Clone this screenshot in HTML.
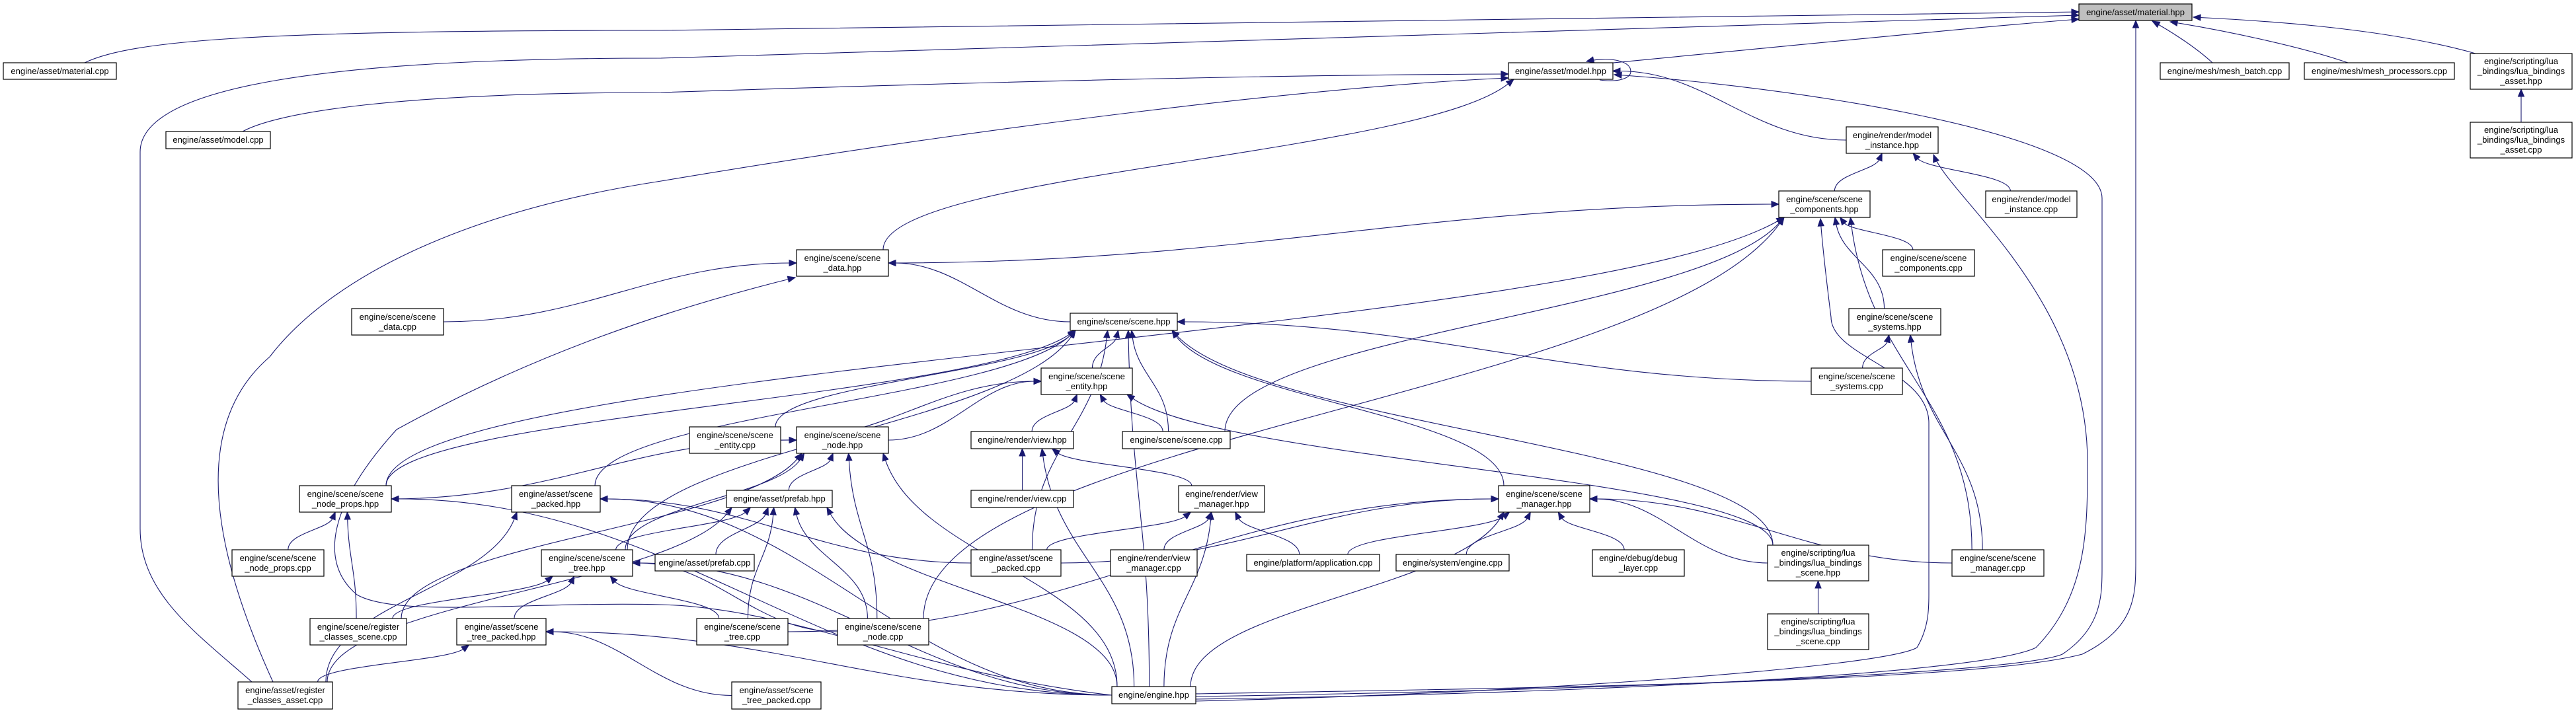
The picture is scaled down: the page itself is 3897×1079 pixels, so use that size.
<!DOCTYPE html>
<html><head><meta charset="utf-8"><style>
html,body{margin:0;padding:0;background:#fff;}
svg{display:block;}
text{font-family:"Liberation Sans",Arial,sans-serif;font-size:13px;fill:#000;text-anchor:middle;}
rect{fill:#fff;stroke:#000;stroke-width:1.2;}
</style></head><body>
<svg id="s" width="3897" height="1079" viewBox="0 0 3897 1079" xmlns="http://www.w3.org/2000/svg">
<g id="edges" fill="none" stroke="#191970" stroke-width="1.1"></g>
<g id="arrows" fill="#191970" stroke="#191970"></g>
<g id="nodes">
<rect x="3145" y="6" width="171" height="25" style="fill:#bfbfbf"/><text x="3230.5" y="23">engine/asset/material.hpp</text>
<rect x="5" y="95" width="171" height="25"/><text x="90.5" y="112">engine/asset/material.cpp</text>
<rect x="2282" y="95" width="158" height="25"/><text x="2361" y="112">engine/asset/model.hpp</text>
<rect x="251" y="199" width="158" height="26"/><text x="330" y="216">engine/asset/model.cpp</text>
<rect x="3268" y="95" width="195" height="25"/><text x="3365.5" y="112">engine/mesh/mesh_batch.cpp</text>
<rect x="3486" y="95" width="227" height="25"/><text x="3599.5" y="112">engine/mesh/mesh_processors.cpp</text>
<rect x="3737" y="81" width="154" height="54"/><text x="3814" y="97">engine/scripting/lua</text><text x="3814" y="112">_bindings/lua_bindings</text><text x="3814" y="127">_asset.hpp</text>
<rect x="3737" y="185" width="154" height="54"/><text x="3814" y="201">engine/scripting/lua</text><text x="3814" y="216">_bindings/lua_bindings</text><text x="3814" y="231">_asset.cpp</text>
<rect x="2793" y="192" width="139" height="40"/><text x="2862.5" y="209">engine/render/model</text><text x="2862.5" y="224">_instance.hpp</text>
<rect x="3004" y="289" width="138" height="40"/><text x="3073" y="306">engine/render/model</text><text x="3073" y="321">_instance.cpp</text>
<rect x="2691" y="289" width="138" height="40"/><text x="2760" y="306">engine/scene/scene</text><text x="2760" y="321">_components.hpp</text>
<rect x="2848" y="378" width="139" height="40"/><text x="2917.5" y="395">engine/scene/scene</text><text x="2917.5" y="410">_components.cpp</text>
<rect x="1205" y="378" width="139" height="40"/><text x="1274.5" y="395">engine/scene/scene</text><text x="1274.5" y="410">_data.hpp</text>
<rect x="532" y="467" width="139" height="40"/><text x="601.5" y="484">engine/scene/scene</text><text x="601.5" y="499">_data.cpp</text>
<rect x="1619" y="474" width="162" height="26"/><text x="1700" y="491">engine/scene/scene.hpp</text>
<rect x="2797" y="467" width="139" height="40"/><text x="2866.5" y="484">engine/scene/scene</text><text x="2866.5" y="499">_systems.hpp</text>
<rect x="1575" y="557" width="138" height="40"/><text x="1644" y="574">engine/scene/scene</text><text x="1644" y="589">_entity.hpp</text>
<rect x="2740" y="557" width="138" height="40"/><text x="2809" y="574">engine/scene/scene</text><text x="2809" y="589">_systems.cpp</text>
<rect x="1043" y="646" width="138" height="40"/><text x="1112" y="663">engine/scene/scene</text><text x="1112" y="678">_entity.cpp</text>
<rect x="1205" y="646" width="139" height="40"/><text x="1274.5" y="663">engine/scene/scene</text><text x="1274.5" y="678">_node.hpp</text>
<rect x="1469" y="653" width="155" height="26"/><text x="1546.5" y="670">engine/render/view.hpp</text>
<rect x="1698" y="653" width="163" height="26"/><text x="1779.5" y="670">engine/scene/scene.cpp</text>
<rect x="453" y="735" width="139" height="40"/><text x="522.5" y="752">engine/scene/scene</text><text x="522.5" y="767">_node_props.hpp</text>
<rect x="774" y="735" width="134" height="40"/><text x="841" y="752">engine/asset/scene</text><text x="841" y="767">_packed.hpp</text>
<rect x="1099" y="742" width="160" height="26"/><text x="1179" y="759">engine/asset/prefab.hpp</text>
<rect x="1469" y="742" width="155" height="26"/><text x="1546.5" y="759">engine/render/view.cpp</text>
<rect x="1783" y="735" width="130" height="40"/><text x="1848" y="752">engine/render/view</text><text x="1848" y="767">_manager.hpp</text>
<rect x="2267" y="735" width="138" height="40"/><text x="2336" y="752">engine/scene/scene</text><text x="2336" y="767">_manager.hpp</text>
<rect x="351" y="832" width="139" height="40"/><text x="420.5" y="849">engine/scene/scene</text><text x="420.5" y="864">_node_props.cpp</text>
<rect x="819" y="832" width="138" height="40"/><text x="888" y="849">engine/scene/scene</text><text x="888" y="864">_tree.hpp</text>
<rect x="991" y="839" width="150" height="25"/><text x="1066" y="856">engine/asset/prefab.cpp</text>
<rect x="1469" y="832" width="136" height="40"/><text x="1537" y="849">engine/asset/scene</text><text x="1537" y="864">_packed.cpp</text>
<rect x="1680" y="832" width="131" height="40"/><text x="1745.5" y="849">engine/render/view</text><text x="1745.5" y="864">_manager.cpp</text>
<rect x="1886" y="839" width="201" height="25"/><text x="1986.5" y="856">engine/platform/application.cpp</text>
<rect x="2112" y="839" width="171" height="25"/><text x="2197.5" y="856">engine/system/engine.cpp</text>
<rect x="2409" y="832" width="139" height="40"/><text x="2478.5" y="849">engine/debug/debug</text><text x="2478.5" y="864">_layer.cpp</text>
<rect x="2674" y="825" width="153" height="54"/><text x="2750.5" y="841">engine/scripting/lua</text><text x="2750.5" y="856">_bindings/lua_bindings</text><text x="2750.5" y="871">_scene.hpp</text>
<rect x="2953" y="832" width="139" height="40"/><text x="3022.5" y="849">engine/scene/scene</text><text x="3022.5" y="864">_manager.cpp</text>
<rect x="469" y="936" width="146" height="40"/><text x="542" y="953">engine/scene/register</text><text x="542" y="968">_classes_scene.cpp</text>
<rect x="691" y="936" width="135" height="40"/><text x="758.5" y="953">engine/asset/scene</text><text x="758.5" y="968">_tree_packed.hpp</text>
<rect x="1054" y="936" width="138" height="40"/><text x="1123" y="953">engine/scene/scene</text><text x="1123" y="968">_tree.cpp</text>
<rect x="1267" y="936" width="138" height="40"/><text x="1336" y="953">engine/scene/scene</text><text x="1336" y="968">_node.cpp</text>
<rect x="2674" y="929" width="153" height="54"/><text x="2750.5" y="945">engine/scripting/lua</text><text x="2750.5" y="960">_bindings/lua_bindings</text><text x="2750.5" y="975">_scene.cpp</text>
<rect x="360" y="1032" width="143" height="41"/><text x="431.5" y="1049">engine/asset/register</text><text x="431.5" y="1064">_classes_asset.cpp</text>
<rect x="1107" y="1032" width="135" height="41"/><text x="1174.5" y="1049">engine/asset/scene</text><text x="1174.5" y="1064">_tree_packed.cpp</text>
<rect x="1682" y="1039" width="127" height="26"/><text x="1745.5" y="1056">engine/engine.hpp</text>
</g>
</svg>
<script>
var N={M:[3145,6,3316,31],MC:[5,95,176,120],MH:[2282,95,2440,120],MCPP:[251,199,409,225],MB:[3268,95,3463,120],MP:[3486,95,3713,120],
LAH:[3737,81,3891,135],LAC:[3737,185,3891,239],MIH:[2793,192,2932,232],MIC:[3004,289,3142,329],SCH:[2691,289,2829,329],SCC:[2848,378,2987,418],
SDH:[1205,378,1344,418],SDC:[532,467,671,507],SH:[1619,474,1781,500],SSH:[2797,467,2936,507],SEH:[1575,557,1713,597],SSC:[2740,557,2878,597],
SEC:[1043,646,1181,686],SNH:[1205,646,1344,686],VH:[1469,653,1624,679],SCPP:[1698,653,1861,679],SNPH:[453,735,592,775],SPH:[774,735,908,775],
PH:[1099,742,1259,768],VC:[1469,742,1624,768],VMH:[1783,735,1913,775],SMH:[2267,735,2405,775],SNPC:[351,832,490,872],STH:[819,832,957,872],
PC:[991,839,1141,864],SPC:[1469,832,1605,872],VMC:[1680,832,1811,872],APP:[1886,839,2087,864],SYS:[2112,839,2283,864],DBG:[2409,832,2548,872],
LSH:[2674,825,2827,879],SMC:[2953,832,3092,872],RCS:[469,936,615,976],STPH:[691,936,826,976],STC:[1054,936,1192,976],SNC:[1267,936,1405,976],
LSC:[2674,929,2827,983],RCA:[360,1032,503,1073],STPC:[1107,1032,1242,1073],EH:[1682,1039,1809,1065]};
var E=document.getElementById('edges'),A=document.getElementById('arrows'),NS='http://www.w3.org/2000/svg';
function cl(v,a){return Math.max(-a,Math.min(a,v));}
function arrow(px,py,ex,ey){var dx=ex-px,dy=ey-py,l=Math.sqrt(dx*dx+dy*dy)||1;dx/=l;dy/=l;
 var bx=ex-dx*11,by=ey-dy*11;var p=document.createElementNS(NS,'polygon');
 p.setAttribute('points',ex+','+ey+' '+(bx-dy*4.5)+','+(by+dx*4.5)+' '+(bx+dy*4.5)+','+(by-dx*4.5));A.appendChild(p);}
function path(d){var p=document.createElementNS(NS,'path');p.setAttribute('d',d);E.appendChild(p);}
function custom(d){path(d);var n=d.match(/-?[\d.]+/g).map(Number);var k=n.length;arrow(n[k-4],n[k-3],n[k-2],n[k-1]);}
function edge(a,b,off){off=off||0;var s=N[a],t=N[b];var scx=(s[0]+s[2])/2,tcx=(t[0]+t[2])/2;var sw=(s[2]-s[0])/2-8,tw=(t[2]-t[0])/2-8;
 var dy=s[1]-t[3],dx=tcx-scx,sx,sy,ex,ey,c1x,c1y,c2x,c2y;var th=(a=='EH')?2.5:6;
 if(dy>0&&Math.abs(dx)<th*dy){sx=scx+cl(dx*0.15,sw);sy=s[1];ex=tcx+cl(-dx*0.15+off,tw);ey=t[3];
  c1x=sx;c1y=sy-dy*0.45;c2x=ex+(sx-ex)*0.15;c2y=ey+dy*0.45;}
 else{sy=(s[1]+s[3])/2;ey=(t[1]+t[3])/2+off;if(dx>0){sx=s[2];ex=t[0];}else{sx=s[0];ex=t[2];}
  c1x=sx+(ex-sx)*0.4;c1y=sy;c2x=ex-(ex-sx)*0.4;c2y=ey;}
 var ddx=ex-c2x,ddy=ey-c2y,l=Math.sqrt(ddx*ddx+ddy*ddy)||1;var bx=ex-ddx/l*10,by=ey-ddy/l*10;
 path('M'+sx+','+sy+' C'+c1x+','+c1y+' '+c2x+','+c2y+' '+bx+','+by);arrow(c2x,c2y,ex,ey);}
var L=[['LAC','LAH'],['MIH','MH'],['SDH','MH'],['SCH','MIH'],['MIC','MIH'],
['SDH','SCH'],['SNC','SCH'],['SCPP','SCH'],['SCC','SCH'],['SSH','SCH'],['SMC','SCH'],['SDC','SDH'],['SH','SDH'],
['SSC','SSH'],['SMC','SSH'],['SEH','SH'],['SNPH','SH'],['SPH','SH'],['STH','SH'],['SCPP','SH'],['SPC','SH'],['SMH','SH'],['LSH','SH'],['SSC','SH'],['EH','SH'],['SEC','SH'],
['SEC','SEH'],['SNH','SEH'],['VH','SEH'],['SCPP','SEH'],['LSH','SEH'],
['SNPH','SNH'],['STH','SNH'],['PH','SNH'],['SNC','SNH'],['EH','SNH'],['RCS','SNH'],
['STH','PH'],['PC','PH'],['STC','PH'],['SNC','PH'],['EH','PH'],['RCA','PH'],
['VC','VH'],['VMH','VH'],['EH','VH'],['VMC','VMH'],['EH','VMH'],['APP','VMH'],['SPC','VMH'],
['APP','SMH'],['SYS','SMH'],['DBG','SMH'],['LSH','SMH'],['SMC','SMH'],['EH','SMH'],['STC','SMH'],['SPC','SMH'],
['SNPC','SNPH'],['RCS','SNPH'],['EH','SNPH'],['RCA','SPH'],['SPC','SPH'],['EH','SPH'],
['RCS','STH'],['STPH','STH'],['STC','STH'],['SNC','STH'],['EH','STH'],['RCA','STPH'],['STPC','STPH'],['EH','STPH'],['LSC','LSH'],['SNPH','SCH']];
L.forEach(function(e){edge(e[0],e[1]);});
custom('M3347,95 C3320,70 3280,45 3256,32');
custom('M3552,95 C3480,70 3360,45 3283,33');
custom('M3745,81 C3600,40 3400,30 3318,26');
custom('M128,95 C200,60 400,46 1000,46 C2000,35 2800,24 3145,18');
custom('M2430,96 C2700,70 3000,40 3145,29');
custom('M381,1032 C300,960 212,900 212,800 L212,230 C212,130 500,88 1000,88 C2000,60 2800,28 3145,23');
custom('M367,199 C420,170 600,140 1000,140 C1600,120 2000,113 2282,112');
custom('M413,1032 C330,850 280,650 408,540 C500,420 700,320 1000,274 C1500,190 2000,130 2282,118');
custom('M1809,1050 C2400,1040 3000,1030 3150,990 C3231,950 3231,900 3231,850 L3231,31');
custom('M1809,1054 C2400,1045 3050,1020 3120,990 C3180,950 3180,900 3180,860 L3180,300 C3180,200 2700,130 2442,113');
custom('M1809,1058 C2400,1050 3000,1020 3080,980 C3158,900 3158,800 3158,700 C3158,450 2950,300 2925,234');
custom('M1809,1061 C2300,1050 2850,1010 2900,980 C2918,950 2918,920 2918,900 L2918,640 C2918,560 2770,540 2770,480 C2760,400 2756,360 2754,331');
custom('M1682,1052 C1400,1020 1200,920 1000,915 C800,910 600,935 540,900 C480,850 500,760 600,650 C800,540 1000,470 1203,420');
custom('M2420,121 C2450,125 2467,118 2467,108 C2467,90 2430,86 2400,93');
</script>
</body></html>
